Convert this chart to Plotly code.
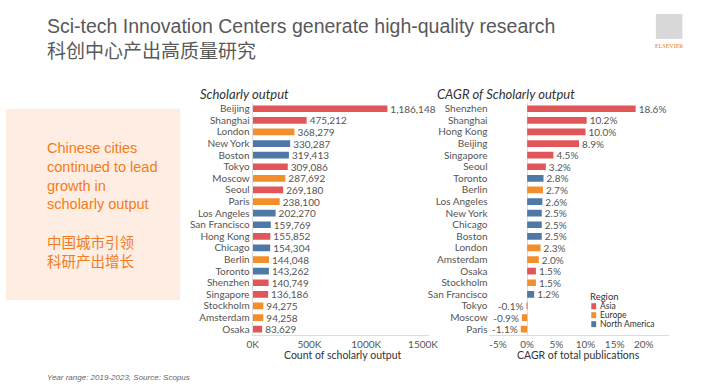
import plotly.graph_objects as go

W, H = 705, 388

# ---- Data ----
out_cities = ["Beijing", "Shanghai", "London", "New York", "Boston", "Tokyo", "Moscow", "Seoul",
              "Paris", "Los Angeles", "San Francisco", "Hong Kong", "Chicago", "Berlin", "Toronto",
              "Shenzhen", "Singapore", "Stockholm", "Amsterdam", "Osaka"]
out_values = [1186148, 475212, 368279, 330287, 319413, 309086, 287692, 269180,
              238100, 202270, 159769, 155852, 154304, 144048, 143262,
              140749, 136186, 94275, 94258, 83629]
out_regions = ["Asia", "Asia", "Europe", "North America", "North America", "Asia", "Europe", "Asia",
               "Europe", "North America", "North America", "Asia", "North America", "Europe", "North America",
               "Asia", "Asia", "Europe", "Europe", "Asia"]

cagr_cities = ["Shenzhen", "Shanghai", "Hong Kong", "Beijing", "Singapore", "Seoul", "Toronto", "Berlin",
               "Los Angeles", "New York", "Chicago", "Boston", "London", "Amsterdam", "Osaka",
               "Stockholm", "San Francisco", "Tokyo", "Moscow", "Paris"]
cagr_values = [18.6, 10.2, 10.0, 8.9, 4.5, 3.2, 2.8, 2.7,
               2.6, 2.5, 2.5, 2.5, 2.3, 2.0, 1.5,
               1.5, 1.2, -0.1, -0.9, -1.1]
cagr_regions = ["Asia", "Asia", "Asia", "Asia", "Asia", "Asia", "North America", "Europe",
                "North America", "North America", "North America", "North America", "Europe", "Europe", "Asia",
                "Europe", "North America", "Asia", "Europe", "Europe"]

regions = ["Asia", "Europe", "North America"]
region_colors = {"Asia": "#e15759", "Europe": "#f28e2b", "North America": "#4e79a7"}

out_ticks = [0, 500000, 1000000, 1500000]
out_ticktext = ["0K", "500K", "1000K", "1500K"]
cagr_ticks = [-5, 0, 5, 10, 15, 20]
cagr_ticktext = ["-5%", "0%", "5%", "10%", "15%", "20%"]

FONT = "Lato"
TXT = "#555555"

fig = go.Figure()

for r in regions:
    idx = [i for i, g in enumerate(out_regions) if g == r]
    fig.add_trace(go.Bar(
        y=[out_cities[i] for i in idx], x=[out_values[i] for i in idx],
        orientation="h", marker=dict(color=region_colors[r], line=dict(width=0)),
        width=0.58, texttemplate="%{x:,}", textposition="outside", cliponaxis=False,
        constraintext="none", textfont=dict(size=10, color=TXT, family=FONT),
        xaxis="x", yaxis="y", showlegend=False, hoverinfo="skip"))

for r in regions:
    idx = [i for i, g in enumerate(cagr_regions) if g == r]
    fig.add_trace(go.Bar(
        y=[cagr_cities[i] for i in idx], x=[cagr_values[i] for i in idx],
        orientation="h", marker=dict(color=region_colors[r], line=dict(width=0)),
        width=0.58, texttemplate="%{x:.1f}%", textposition="outside", cliponaxis=False,
        constraintext="none", textfont=dict(size=10, color=TXT, family=FONT),
        xaxis="x2", yaxis="y2", showlegend=False, hoverinfo="skip"))

def px(x):
    return x / W

def py(y):
    return 1 - y / H

ydom = [py(334.8), py(102.2)]

fig.update_layout(
    width=W, height=H, margin=dict(l=0, r=0, t=0, b=0),
    paper_bgcolor="white", plot_bgcolor="rgba(0,0,0,0)",
    barmode="overlay", font=dict(family=FONT, color=TXT, size=10),
    showlegend=False,
    xaxis=dict(domain=[px(252), px(432)], range=[0, 1551000], tickmode="array",
               tickvals=out_ticks, ticktext=out_ticktext,
               showgrid=False, zeroline=False, showline=True, linecolor="#dddddd", linewidth=1,
               tickfont=dict(size=10, color=TXT), anchor="y", fixedrange=True),
    yaxis=dict(domain=ydom, categoryorder="array", categoryarray=out_cities[::-1],
               tickmode="array", tickvals=out_cities,
               range=[-0.5, len(out_cities) - 0.5], showgrid=False, zeroline=False,
               showline=True, linecolor="#dddddd", linewidth=1, ticks="",
               tickfont=dict(size=10, color=TXT), anchor="x", fixedrange=True),
    xaxis2=dict(domain=[px(493), px(677)], range=[-6.63, 24.25], tickmode="array",
                tickvals=cagr_ticks, ticktext=cagr_ticktext,
                showgrid=False, zeroline=True, zerolinecolor="#dddddd", zerolinewidth=1,
                showline=True, linecolor="#dddddd", linewidth=1,
                tickfont=dict(size=10, color=TXT), anchor="y2", fixedrange=True),
    yaxis2=dict(domain=ydom, categoryorder="array", categoryarray=cagr_cities[::-1],
                tickmode="array", tickvals=cagr_cities,
                range=[-0.5, len(cagr_cities) - 0.5], showgrid=False, zeroline=False,
                showline=False, ticks="", tickfont=dict(size=10, color=TXT), anchor="x2", fixedrange=True),
)

shapes = []
annots = []

# Left highlight panel
shapes.append(dict(type="rect", xref="paper", yref="paper", x0=0, x1=px(178), y0=py(300), y1=py(108),
                   fillcolor="#fdede2", line=dict(width=0), layer="below"))

panel_lines = [("Chinese cities", 147), ("continued to lead", 166), ("growth in", 185),
               ("scholarly output", 204), ("中国城市引领", 243), ("科研产出增长", 262)]
for t, y in panel_lines:
    annots.append(dict(text=t, x=px(40), y=py(y), xref="paper", yref="paper", xanchor="left", yanchor="middle",
                       showarrow=False, font=dict(family="Liberation Sans, Noto Sans CJK SC", size=14.5, color="#f47c20")))

# Title
annots.append(dict(text="Sci-tech Innovation Centers generate high-quality research", x=px(40), y=py(25),
                   xref="paper", yref="paper", xanchor="left", yanchor="middle", showarrow=False,
                   font=dict(family="Liberation Sans", size=19.5, color="#595959")))
annots.append(dict(text="科创中心产出高质量研究", x=px(40), y=py(49),
                   xref="paper", yref="paper", xanchor="left", yanchor="middle", showarrow=False,
                   font=dict(family="Noto Sans CJK SC", size=19, color="#595959")))

# Subtitles
annots.append(dict(text="<i>Scholarly output</i>", x=px(196), y=py(93), xref="paper", yref="paper",
                   xanchor="left", yanchor="middle", showarrow=False,
                   font=dict(family=FONT, size=13, color="#333333")))
annots.append(dict(text="<i>CAGR of Scholarly output</i>", x=px(438), y=py(93), xref="paper", yref="paper",
                   xanchor="left", yanchor="middle", showarrow=False,
                   font=dict(family=FONT, size=13, color="#333333")))

# Axis titles
annots.append(dict(text="Count of scholarly output", x=px(344), y=py(355), xref="paper", yref="paper",
                   xanchor="center", yanchor="middle", showarrow=False,
                   font=dict(family=FONT, size=10.5, color="#333333")))
annots.append(dict(text="CAGR of total publications", x=px(585), y=py(355), xref="paper", yref="paper",
                   xanchor="center", yanchor="middle", showarrow=False,
                   font=dict(family=FONT, size=10.5, color="#333333")))

# Manual legend
annots.append(dict(text="Region", x=px(596), y=py(296), xref="paper", yref="paper", xanchor="left",
                   yanchor="middle", showarrow=False, borderpad=0,
                   font=dict(family=FONT, size=9.5, color="#333333")))
for r, y in zip(regions, [306, 315, 324]):
    shapes.append(dict(type="rect", xref="paper", yref="paper", x0=px(598), x1=px(603), y0=py(y + 3), y1=py(y - 3),
                       fillcolor=region_colors[r], line=dict(width=0)))
    annots.append(dict(text=r, x=px(606), y=py(y), xref="paper", yref="paper", xanchor="left",
                       yanchor="middle", showarrow=False, borderpad=0,
                       font=dict(family=FONT, size=8.5, color="#333333")))

# Footer
annots.append(dict(text="<i>Year range: 2019-2023, Source: Scopus</i>", x=px(40), y=py(377), xref="paper",
                   yref="paper", xanchor="left", yanchor="middle", showarrow=False,
                   font=dict(family="Liberation Sans", size=8, color="#666666")))

# Elsevier logo approximation
shapes.append(dict(type="rect", xref="paper", yref="paper", x0=px(664), x1=px(691), y0=py(38), y1=py(13),
                   fillcolor="#b8b8b8", opacity=0.55, line=dict(width=0)))
annots.append(dict(text="ELSEVIER", x=px(677.5), y=py(45), xref="paper", yref="paper", xanchor="center",
                   yanchor="middle", showarrow=False, font=dict(family="Liberation Serif", size=6, color="#f47c20")))

fig.update_layout(shapes=shapes, annotations=annots)
fig.write_html("out.html", config={"displayModeBar": False},
               post_script="document.body.style.margin='0';document.body.style.overflow='hidden';")
